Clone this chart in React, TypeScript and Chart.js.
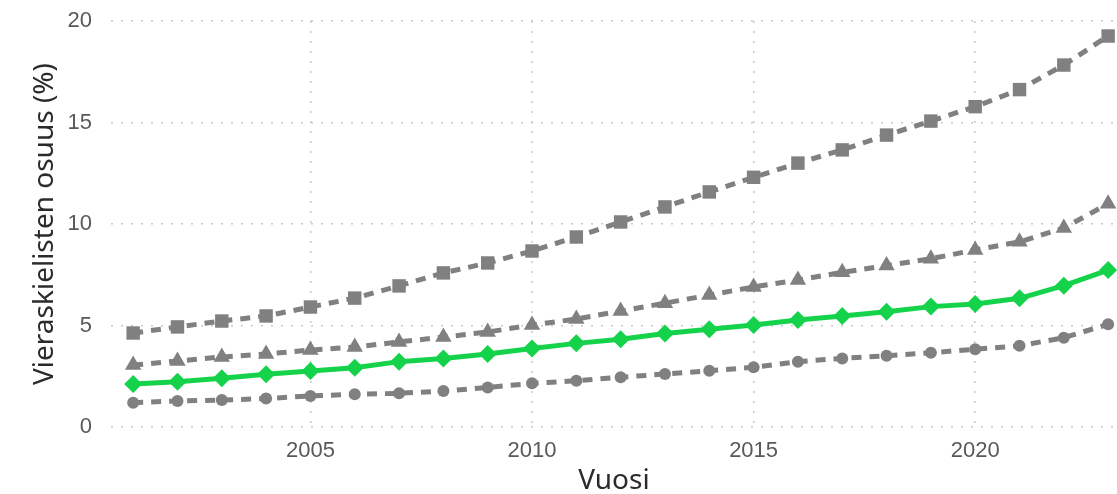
import React, { useEffect, useRef } from "react";
import { Chart, registerables } from "chart.js";

Chart.register(...registerables);

const years = [2001, 2002, 2003, 2004, 2005, 2006, 2007, 2008, 2009, 2010, 2011, 2012, 2013, 2014, 2015, 2016, 2017, 2018, 2019, 2020, 2021, 2022, 2023];
const squares = [4.63, 4.93, 5.22, 5.47, 5.91, 6.35, 6.95, 7.59, 8.08, 8.67, 9.36, 10.1, 10.84, 11.58, 12.3, 13.0, 13.65, 14.38, 15.07, 15.78, 16.62, 17.83, 19.26];
const triangles = [3.05, 3.25, 3.45, 3.6, 3.79, 3.94, 4.19, 4.43, 4.68, 5.02, 5.32, 5.71, 6.1, 6.5, 6.9, 7.24, 7.62, 7.95, 8.29, 8.72, 9.12, 9.8, 11.0];
const diamonds = [2.12, 2.23, 2.4, 2.6, 2.76, 2.92, 3.22, 3.38, 3.6, 3.87, 4.12, 4.32, 4.61, 4.81, 5.02, 5.27, 5.47, 5.68, 5.93, 6.06, 6.34, 6.96, 7.73];
const circles = [1.2, 1.28, 1.33, 1.4, 1.53, 1.61, 1.66, 1.77, 1.95, 2.15, 2.28, 2.45, 2.61, 2.77, 2.94, 3.22, 3.38, 3.51, 3.66, 3.83, 4.0, 4.4, 5.06];
const yTicks = [0, 5, 10, 15, 20];
const xTicks = [2005, 2010, 2015, 2020];

const GRAY = "#808080";
const GREEN = "#14d34b";

export default function App() {
  const ref = useRef<HTMLCanvasElement | null>(null);
  useEffect(() => {
    document.body.style.margin = "0";
    const toPts = (arr: number[]) => arr.map((v, i) => ({ x: years[i], y: v }));
    const grayDs = (label: string, data: number[], style: any, radius: number) => ({
      label,
      data: toPts(data),
      borderColor: GRAY,
      backgroundColor: GRAY,
      borderWidth: 5,
      borderDash: [10, 8],
      pointStyle: style,
      pointRadius: radius,
      pointBorderWidth: 0,
      pointBackgroundColor: GRAY,
      clip: false as any,
    });
    const chart = new Chart(ref.current!, {
      type: "line",
      data: {
        datasets: [
          grayDs("squares", squares, "rect", 9.5),
          grayDs("triangles", triangles, "triangle", 9.5),
          grayDs("circles", circles, "circle", 6),
          {
            label: "diamonds",
            data: toPts(diamonds),
            borderColor: GREEN,
            backgroundColor: GREEN,
            borderWidth: 5,
            pointStyle: "rectRot",
            pointRadius: 9,
            pointBorderWidth: 0,
            pointBackgroundColor: GREEN,
            clip: false as any,
          },
        ],
      },
      options: {
        animation: false,
        responsive: false,
        maintainAspectRatio: false,
        layout: { autoPadding: false, padding: { top: 21, right: 0, left: 0, bottom: 0 } },
        plugins: { legend: { display: false }, tooltip: { enabled: false } },
        scales: {
          x: {
            type: "linear",
            min: 2000.5,
            max: 2023.2,
            afterFit: (s: any) => {
              s.height = 67;
              s.paddingLeft = 0;
              s.paddingRight = 0;
            },
            afterBuildTicks: (s: any) => { s.ticks = xTicks.map((v) => ({ value: v })); },
            grid: { color: "#c8c8c8", lineWidth: 1.5, drawTicks: false },
            border: { display: false, dash: [2, 8] },
            ticks: {
              includeBounds: false,
              padding: 11,
              color: "#595959",
              font: { family: "Liberation Sans", size: 22 },
              callback: (v: any) => String(v),
            },
            title: {
              display: true,
              text: "Vuosi",
              color: "#2b2b2b",
              font: { family: "Noto Sans", size: 28 },
              padding: { top: 0, bottom: -4 },
            },
          },
          y: {
            min: 0,
            max: 20,
            afterFit: (s: any) => {
              s.width = 111;
              s.paddingTop = 0;
              s.paddingBottom = 0;
            },
            afterBuildTicks: (s: any) => { s.ticks = yTicks.map((v) => ({ value: v })); },
            grid: { color: "#c8c8c8", lineWidth: 1.5, drawTicks: false },
            border: { display: false, dash: [2, 8] },
            ticks: {
              padding: 19,
              color: "#595959",
              font: { family: "Liberation Sans", size: 22 },
            },
            title: {
              display: true,
              text: "Vieraskielisten osuus (%)",
              color: "#2b2b2b",
              font: { family: "Noto Sans", size: 28 },
              padding: { top: 28, bottom: 0 },
            },
          },
        },
      },
    });
    return () => chart.destroy();
  }, []);
  return (
    <div style={{ width: 1117, height: 494 }}>
      <canvas ref={ref} width={1117} height={494} style={{ display: "block" }} />
    </div>
  );
}
